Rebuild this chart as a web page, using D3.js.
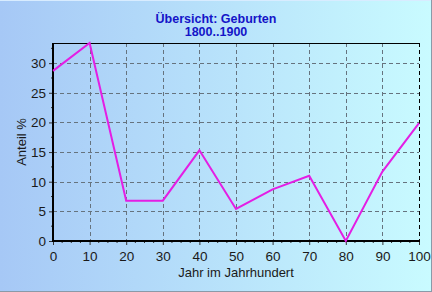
<!DOCTYPE html>
<html><head><meta charset="utf-8">
<script src="https://cdn.jsdelivr.net/npm/d3@7"></script>
<style>html,body{margin:0;padding:0;overflow:hidden;background:#fff}</style>
</head><body>
<script>
const years = [0,10,20,30,40,50,60,70,80,90,100];
const values = [28.7,33.4,6.8,6.8,15.3,5.4,8.7,11.0,0,11.7,19.9];
const xTicks = [0,10,20,30,40,50,60,70,80,90,100];
const yTicks = [0,5,10,15,20,25,30];
const titleLines = ["Übersicht: Geburten","1800..1900"];
const xTitle = "Jahr im Jahrhundert";
const yTitle = "Anteil %";

const W=432,H=292;
const m={l:53,r:419,t:43,b:241};
const svg=d3.select("body").append("svg").attr("width",W).attr("height",H);
const defs=svg.append("defs");
const g=defs.append("linearGradient").attr("id","bg").attr("x1","0").attr("x2","1").attr("y1","0").attr("y2","0");
g.append("stop").attr("offset","0").attr("stop-color","#a6c8f6");
g.append("stop").attr("offset","1").attr("stop-color","#c9fbff");
svg.append("rect").attr("width",W).attr("height",H).attr("fill","url(#bg)");
svg.append("line").attr("x1",0).attr("x2",W).attr("y1",0.5).attr("y2",0.5).attr("stroke","#d8ecff");
svg.append("line").attr("x1",0).attr("x2",W).attr("y1",H-0.5).attr("y2",H-0.5).attr("stroke","#8a9aa8");
svg.append("line").attr("x1",W-0.5).attr("x2",W-0.5).attr("y1",0).attr("y2",H).attr("stroke","#8a9aa8");

const x=d3.scaleLinear().domain([0,100]).range([m.l,m.r]);
const y=d3.scaleLinear().domain([0,33.4]).range([m.b,m.t]);

// grid
const grid=svg.append("g").attr("stroke","#66737e").attr("stroke-dasharray","4,3").attr("stroke-width",1);
xTicks.slice(1).forEach(t=>grid.append("line").attr("x1",Math.round(x(t))+0.5).attr("x2",Math.round(x(t))+0.5).attr("y1",m.t).attr("y2",m.b));
yTicks.slice(1).forEach(t=>grid.append("line").attr("x1",m.l).attr("x2",m.r).attr("y1",Math.round(y(t))+0.5).attr("y2",Math.round(y(t))+0.5));

// frame top/right
svg.append("line").attr("x1",m.l).attr("x2",m.r).attr("y1",m.t+0.5).attr("y2",m.t+0.5).attr("stroke","#000");
svg.append("line").attr("x1",m.r+0.5).attr("x2",m.r+0.5).attr("y1",m.t).attr("y2",m.b).attr("stroke","#000").attr("stroke-dasharray","4,3");

// axes
const font="Arial, 'Liberation Sans', sans-serif";
const xa=svg.append("g").attr("transform",`translate(0,${m.b})`)
  .call(d3.axisBottom(x).tickValues(xTicks).tickSize(4).tickPadding(6).tickFormat(d3.format("d")));
const ya=svg.append("g").attr("transform",`translate(${m.l},0)`)
  .call(d3.axisLeft(y).tickValues(yTicks).tickSize(4).tickPadding(3).tickFormat(d3.format("d")));
[xa,ya].forEach(a=>{a.select(".domain").remove();a.selectAll("text").attr("font-family",font).attr("font-size",13.5).attr("fill","#1a1a1a");a.selectAll("line").attr("stroke","#333");});
// minor ticks
const minorX=d3.range(0,100.01,2.5).filter(v=>v%10!==0);
svg.append("g").selectAll("line").data(minorX).join("line").attr("x1",d=>x(d)).attr("x2",d=>x(d)).attr("y1",m.b).attr("y2",m.b+2).attr("stroke","#333");
const minorY=d3.range(0,33,2.5).filter(v=>v%5!==0);
svg.append("g").selectAll("line").data(minorY).join("line").attr("x1",m.l-2).attr("x2",m.l).attr("y1",d=>y(d)).attr("y2",d=>y(d)).attr("stroke","#333");

svg.append("line").attr("x1",m.l).attr("x2",m.l).attr("y1",m.t).attr("y2",m.b+1).attr("stroke","#000").attr("stroke-width",2);
svg.append("line").attr("x1",m.l-1).attr("x2",m.r+1).attr("y1",m.b).attr("y2",m.b).attr("stroke","#000").attr("stroke-width",2);

// line
svg.append("path").datum(years.map((d,i)=>[d,values[i]]))
  .attr("fill","none").attr("stroke","#e41ee4").attr("stroke-width",2)
  .attr("d",d3.line().x(d=>x(d[0])).y(d=>y(d[1])));

// titles
titleLines.forEach((t,i)=>svg.append("text").attr("x",216).attr("y",23+i*13).attr("text-anchor","middle")
  .attr("font-family",font).attr("font-size",12.5).attr("font-weight","bold").attr("fill","#1414c8").text(t));
svg.append("text").attr("x",(m.l+m.r)/2).attr("y",277).attr("text-anchor","middle")
  .attr("font-family",font).attr("font-size",13).attr("fill","#1a1a1a").text(xTitle);
svg.append("text").attr("transform",`translate(26,${(m.t+m.b)/2}) rotate(-90)`).attr("text-anchor","middle")
  .attr("font-family",font).attr("font-size",13).attr("fill","#1a1a1a").text(yTitle);
</script>
</body></html>
